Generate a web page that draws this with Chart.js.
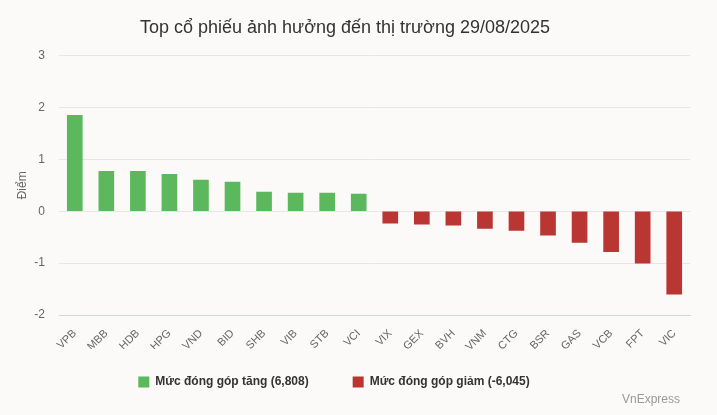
<!DOCTYPE html>
<html>
<head>
<meta charset="utf-8">
<script src="https://cdn.jsdelivr.net/npm/chart.js@4/dist/chart.umd.min.js"></script>
<style>
html,body{margin:0;padding:0;background:#fbfaf8;}
#wrap{position:relative;width:717px;height:415px;}
#credits{position:absolute;right:37px;top:392px;font:12px "Liberation Sans",Arial,sans-serif;color:#999;}
</style>
</head>
<body>
<div id="wrap">
<canvas id="c" width="717" height="415"></canvas>
<div id="credits">VnExpress</div>
</div>
<script>
const categories = ["VPB","MBB","HDB","HPG","VND","BID","SHB","VIB","STB","VCI","VIX","GEX","BVH","VNM","CTG","BSR","GAS","VCB","FPT","VIC"];
const increase = [1.85,0.77,0.77,0.71,0.60,0.56,0.37,0.35,0.35,0.33,null,null,null,null,null,null,null,null,null,null];
const decrease = [null,null,null,null,null,null,null,null,null,null,-0.23,-0.25,-0.27,-0.33,-0.37,-0.46,-0.60,-0.78,-1.00,-1.60];
const seriesNames = ["Mức đóng góp tăng (6,808)","Mức đóng góp giảm (-6,045)"];
const yTicks = {min:-2,max:3,step:1};
const titleText = "Top cổ phiếu ảnh hưởng đến thị trường 29/08/2025";
const yTitle = "Điểm";

const FONT = '"Liberation Sans", Arial, sans-serif';
const legendShift = {
  id: 'legendShift',
  afterLayout(chart) {
    const lg = chart.legend;
    if (lg) { lg.left -= 11; lg.right -= 11; lg.top -= 17; lg.bottom -= 17; }
  }
};
new Chart(document.getElementById('c'), {
  type: 'bar',
  data: {
    labels: categories,
    datasets: [
      {label: seriesNames[0], data: increase, backgroundColor: '#5cb85c', barThickness: 15},
      {label: seriesNames[1], data: decrease, backgroundColor: '#b93632', barThickness: 15}
    ]
  },
  plugins: [legendShift],
  options: {
    responsive: false,
    animation: false,
    layout: {padding: {left: 0, right: 27, top: 0, bottom: 0}},
    plugins: {
      title: {display: true, text: titleText, color: '#333', font: {family: FONT, size: 18, weight: 'normal'}, padding: {top: 17, bottom: 17}},
      legend: {
        position: 'bottom',
        labels: {color: '#333', font: {family: FONT, size: 12, weight: 'bold'}, boxWidth: 11, boxHeight: 11, padding: 44}
      },
      tooltip: {enabled: false}
    },
    scales: {
      x: {
        stacked: true,
        grid: {display: false},
        border: {display: true, color: '#ccd6eb'},
        ticks: {color: '#666', font: {family: FONT, size: 11}, minRotation: 45, maxRotation: 45, autoSkip: false, padding: 4},
        afterFit: (s) => { s.height = 34; }
      },
      y: {
        stacked: true,
        min: yTicks.min, max: yTicks.max,
        ticks: {stepSize: yTicks.step, color: '#666', font: {family: FONT, size: 12}, padding: 14},
        grid: {color: '#e6e6e6', drawTicks: false},
        border: {display: false},
        title: {display: true, text: yTitle, color: '#666', font: {family: FONT, size: 12}, padding: {top: 15, bottom: 0}},
        afterFit: (s) => { s.width = 59; }
      }
    }
  }
});
</script>
</body>
</html>
